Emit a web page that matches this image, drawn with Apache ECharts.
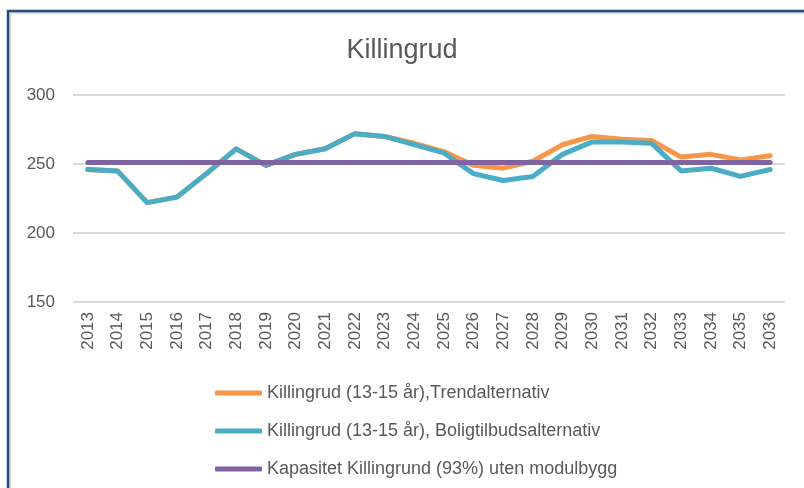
<!DOCTYPE html>
<html>
<head>
    <meta charset="utf-8" />
    <title>Killingrud</title>
    <script type="text/javascript" src="https://cdn.jsdelivr.net/npm/echarts@6/dist/echarts.min.js"></script>
    <style>
        html, body { margin: 0; padding: 0; background: #fff; }
        #con1 { width: 804px; height: 488px; }
    </style>
</head>
<body>
    <div id="con1"></div>
    <script type="text/javascript">
        var years = ['2013', '2014', '2015', '2016', '2017', '2018', '2019', '2020', '2021', '2022', '2023', '2024',
                     '2025', '2026', '2027', '2028', '2029', '2030', '2031', '2032', '2033', '2034', '2035', '2036'];
        // Trendalternativ
        var trend = [246, 245, 222, 226, 243, 261, 249, 257, 261, 272, 270, 265,
                     259, 249, 247, 252, 264, 270, 268, 267, 255, 257, 253, 256];
        // Boligtilbudsalternativ
        var bolig = [246, 245, 222, 226, 243, 261, 249, 257, 261, 272, 270, 264,
                     258, 243, 238, 241, 257, 266, 266, 265, 245, 247, 241, 246];
        // kapasitet (93%)
        var kapasitet = [251, 251, 251, 251, 251, 251, 251, 251, 251, 251, 251, 251,
                         251, 251, 251, 251, 251, 251, 251, 251, 251, 251, 251, 251];
        var names = ['Killingrud (13-15 år),Trendalternativ',
                     'Killingrud (13-15 år), Boligtilbudsalternativ',
                     'Kapasitet Killingrund (93%) uten modulbygg'];

        var myChart1 = echarts.init(document.getElementById('con1'), null, { renderer: 'canvas' });
        var txt = '#595959';
        var option1 = {
            color: ['#F79646', '#4BACC6', '#8064A2'],
            backgroundColor: '#fff',
            animation: false,
            textStyle: { fontFamily: 'Liberation Sans' },
            title: {
                text: 'Killingrud',
                left: 'center',
                top: 32,
                textStyle: { fontSize: 27, fontWeight: 'normal', color: txt, fontFamily: 'Liberation Sans' }
            },
            graphic: [
                { type: 'rect', shape: { x: 10, y: 13, width: 800, height: 480 }, style: { fill: 'none', stroke: '#d9d9d9', lineWidth: 2 } },
                { type: 'rect', shape: { x: 8, y: 11, width: 800, height: 480 }, style: { fill: 'none', stroke: '#1F4E79', lineWidth: 2.5 } }
            ],
            legend: {
                orient: 'vertical',
                left: 210,
                top: 378,
                icon: 'roundRect',
                itemWidth: 47,
                itemHeight: 5,
                itemGap: 18,
                textStyle: { fontSize: 18, color: txt, lineHeight: 20 },
                data: names
            },
            grid: {
                left: 73,
                right: 19,
                top: 95,
                bottom: 186
            },
            xAxis: {
                type: 'category',
                data: years,
                boundaryGap: true,
                axisLine: { show: false },
                axisTick: { show: false },
                axisLabel: { rotate: 90, fontSize: 17, color: txt, margin: 10, interval: 0 }
            },
            yAxis: {
                type: 'value',
                min: 150,
                max: 300,
                interval: 50,
                axisLine: { show: false },
                axisTick: { show: false },
                axisLabel: { fontSize: 17, color: txt, margin: 18 },
                splitLine: { lineStyle: { color: '#d9d9d9', width: 2 } }
            },
            series: [{
                name: names[0],
                type: 'line',
                data: trend,
                symbol: 'none',
                lineStyle: { width: 5, cap: 'round', join: 'round' }
            },
            {
                name: names[1],
                type: 'line',
                data: bolig,
                symbol: 'none',
                lineStyle: { width: 5, cap: 'round', join: 'round' }
            },
            {
                name: names[2],
                type: 'line',
                data: kapasitet,
                symbol: 'none',
                lineStyle: { width: 5, cap: 'round', join: 'round' }
            }]
        };
        option1 && myChart1.setOption(option1);
    </script>
</body>
</html>
